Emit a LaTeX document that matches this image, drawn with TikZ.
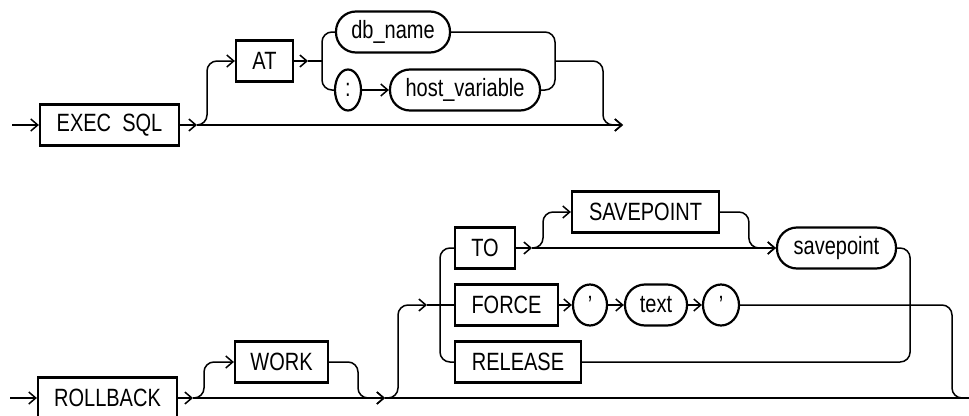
\documentclass[tikz,border=0pt]{standalone}
\usepackage{fontspec}
\newfontfamily\rrfont[FakeStretch=0.8]{Liberation Sans}
\usetikzlibrary{arrows.meta,positioning,shapes.geometric}
\tikzset{
  kw/.style={draw,line width=2.2pt,minimum height=41pt,inner sep=0pt,
    font=\rrfont\fontsize{25}{28}\selectfont},
  var/.style={kw,rounded corners=20pt},
  sym/.style={kw,ellipse},
  rail/.style={line width=1.5pt,rounded corners=10pt},
  go/.style={rail,-{Straight Barb[length=7pt,width=12pt]}}
}
\begin{document}
\begin{tikzpicture}[x=1pt,y=-1pt]
  \useasboundingbox (0,0) rectangle (969,415);
  % EXEC SQL [AT {db_name | :host_variable}]
  \coordinate (t0) at (12,125);
  \node[kw,minimum width=139pt] (execsql) at (109.5,125) {EXEC\ \ SQL};
  \coordinate (t1) at (197,125);
  \node[kw,minimum width=57pt] (at) at (264.5,61) {AT};
  \coordinate (t2) at (308,61);
  \coordinate (t3) at (322,61);
  \node[var,minimum width=114pt] (dbname) at (393,32) {db\_name};
  \node[sym,minimum width=26pt] (colon) at (348,90) {:};
  \node[var,minimum width=150pt] (hostvar) at (465,90) {host\_variable};
  \coordinate (t4) at (555,61);
  \coordinate (t5) at (623,125);
  \draw[go] (t0) -- (execsql);
  \draw[go] (execsql) -- (t1);
  \draw[go] (t1) -- ++(10,0) |- (at);
  \draw[go] (at) -- (t2);
  \draw[rail] (t2) -- (t3);
  \draw[rail] (t3) |- (dbname);
  \draw[rail] (t3) |- (colon);
  \draw[go] (colon) -- (hostvar);
  \draw[rail] (dbname) -| (t4) |- (hostvar);
  \draw[go] (t4) -| ([xshift=-20pt]t5) -- (t5);
  \draw[go] (t1) -- (t5);
  % ROLLBACK [WORK] [TO [SAVEPOINT] savepoint | FORCE 'text' | RELEASE]
  \coordinate (b0) at (10,398);
  \node[kw,minimum width=139pt] (rollback) at (107.5,398) {ROLLBACK};
  \coordinate (b1) at (193,398);
  \node[kw,minimum width=93pt] (work) at (281.5,362) {WORK};
  \coordinate (b2) at (385,398);
  \coordinate (b3) at (427,305);
  \coordinate (b4) at (440,305);
  \node[kw,minimum width=60pt] (to) at (485,248) {TO};
  \node[kw,minimum width=103pt] (force) at (506.5,305) {FORCE};
  \node[kw,minimum width=126pt] (release) at (518,362) {RELEASE};
  \coordinate (b5) at (532,248);
  \node[kw,minimum width=147pt] (savept) at (645.5,212) {SAVEPOINT};
  \node[var,minimum width=119pt] (savepoint) at (836.5,248) {savepoint};
  \node[sym,minimum width=34pt] (q1) at (590,305) {’};
  \node[var,minimum width=62pt] (text) at (656,305) {text};
  \node[sym,minimum width=36pt] (q2) at (721,305) {’};
  \coordinate (bend) at (969,398);
  \draw[go] (b0) -- (rollback);
  \draw[go] (rollback) -- (b1);
  \draw[go] (b1) -- ++(11,0) |- (work);
  \draw[go] (work) -| ([xshift=-27pt]b2) -- (b2);
  \draw[go] (b1) -- (b2);
  \draw[rail] (b2) -- (bend);
  \draw[go] (b2) -- ++(13,0) |- (b3);
  \draw[rail] (b3) -- (b4);
  \draw[rail] (b4) |- (to);
  \draw[rail] (b4) -- (force);
  \draw[rail] (b4) |- (release);
  \draw[go] (to) -- (b5);
  \draw[go] (b5) -- ++(11,0) |- (savept);
  \draw[go] (b5) -- (savepoint);
  \draw[go] (savept) -| ([xshift=-27pt]savepoint.west) -- (savepoint);
  \draw[rail] (savepoint.east) -- ++(13,0) |- (release);
  \foreach \a/\b in {force/q1,q1/text,text/q2}
    \draw[go] (\a) -- (\b);
  \draw[rail] (q2) -| ([xshift=-17pt]bend) -- (bend);
\end{tikzpicture}
\end{document}
